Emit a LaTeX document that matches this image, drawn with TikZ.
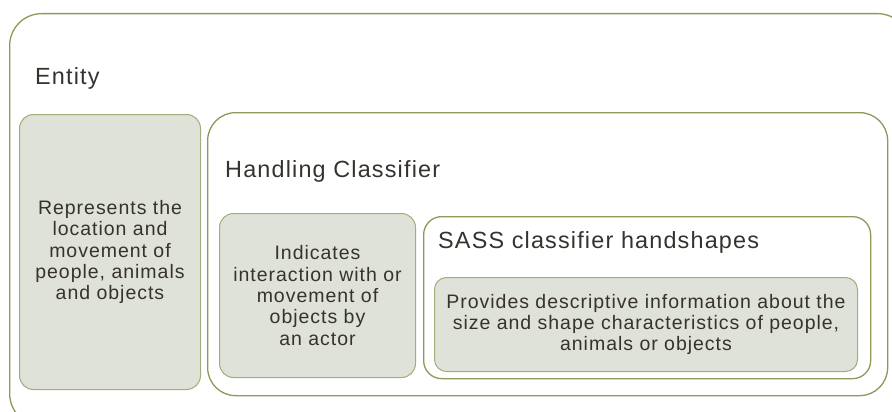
\documentclass[tikz,border=0pt]{standalone}
\usepackage{fontspec}
\setmainfont{Liberation Sans}
\newfontfamily\slidefont[LetterSpace=5]{Liberation Sans}
\usetikzlibrary{positioning}
\definecolor{olive}{HTML}{8A9A5A}
\definecolor{sage}{HTML}{DFE2D8}
\definecolor{ink}{HTML}{36322D}

\begin{document}
\begin{tikzpicture}[x=1pt, y=-1pt,
    container/.style={draw=olive, line width=1.3pt, rounded corners=#1,
                      anchor=north west, inner sep=0pt},
    leaf/.style={draw=olive!80, fill=sage, line width=1pt, rounded corners=14pt,
                 anchor=north west, inner sep=0pt},
    title/.style={anchor=west, inner sep=0pt, text=ink, font=\slidefont\fontsize{23.4}{27}\selectfont},
    body/.style={text=ink, align=center, font=\slidefont\fontsize{19.5}{21.3}\selectfont},
  ]
  \useasboundingbox (0,0) rectangle (892,412);
  \clip (0,0) rectangle (892,412);

  % Entity (runs off the page at right and bottom)
  \node[container=32pt, minimum width=900pt, minimum height=412pt] (entity) at (9,13) {};
  \node[title] (entitytitle) at (35,78) {Entity};
  \node[leaf, minimum width=181pt, minimum height=275pt] (entitybox) at (19,114) {};
  \node[body] (entitytext) at (entitybox.center) {Represents the\\location and\\movement of\\people, animals\\and objects};

  % Handling Classifier
  \node[container=28pt, minimum width=680pt, minimum height=283pt] (handling) at (207,112) {};
  \node[title] (handlingtitle) at (225,171) {Handling Classifier};
  \node[leaf, minimum width=196pt, minimum height=164pt] (handlingbox) at (219,213) {};
  \node[body] (handlingtext) at (handlingbox.center) {Indicates\\interaction with or\\movement of\\objects by\\an actor};

  % SASS classifier handshapes
  \node[container=18pt, minimum width=447pt, minimum height=162pt] (sass) at (423,216) {};
  \node[title] (sasstitle) at (438,242) {SASS classifier handshapes};
  \node[leaf, rounded corners=12pt, minimum width=423pt, minimum height=94pt] (sassbox) at (434,277) {};
  \node[body] (sasstext) at (sassbox.center) {Provides descriptive information about the\\size and shape characteristics of people,\\animals or objects};
\end{tikzpicture}
\end{document}
